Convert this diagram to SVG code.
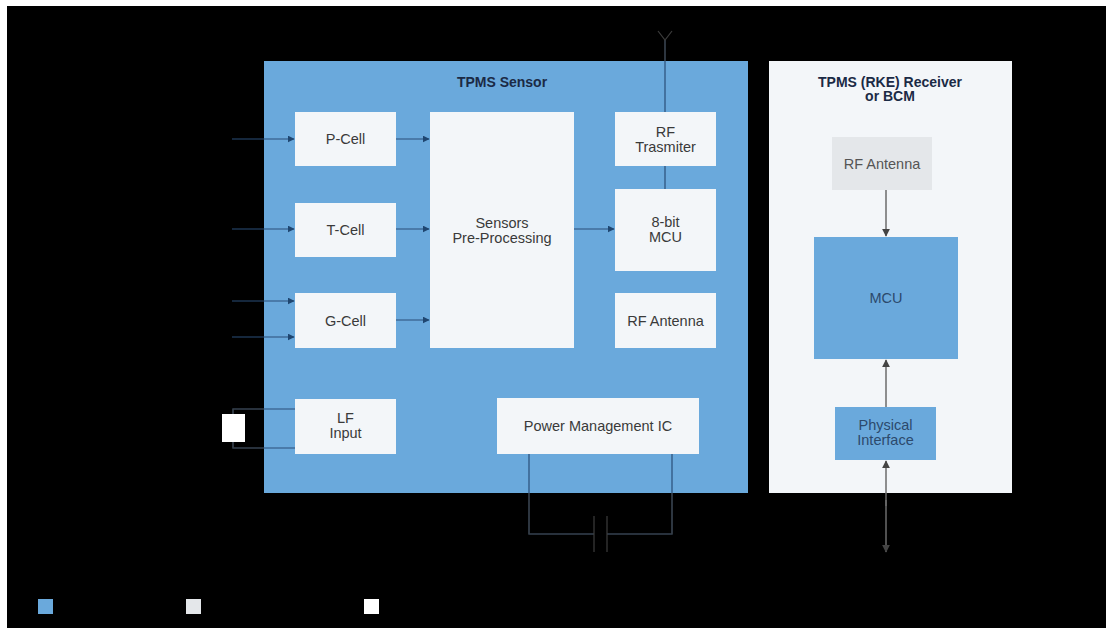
<svg xmlns="http://www.w3.org/2000/svg" width="1106" height="628" viewBox="0 0 1106 628">
<defs>
<style>
.t{font-family:"Liberation Sans",Arial,sans-serif;font-size:14.5px;fill:#3a3a3a;text-anchor:middle}
.h{font-family:"Liberation Sans",Arial,sans-serif;font-size:14px;font-weight:bold;fill:#1b2a45;text-anchor:middle}
.wb{fill:#f3f6f9}
.blue{fill:#6aa9dc}
.c{stroke:#2a4f78;stroke-width:1.2;fill:none}
.k{stroke:#3c3c3c;stroke-width:1.2;fill:none}
.rg{stroke:#6b6b6b;stroke-width:1.5;fill:none}
</style>
<marker id="a" viewBox="0 0 10 10" refX="9" refY="5" markerWidth="7" markerHeight="7" orient="auto" markerUnits="userSpaceOnUse"><path d="M0,0L10,5L0,10z" fill="#1f4670"/></marker>
<marker id="ag" viewBox="0 0 10 10" refX="9" refY="5" markerWidth="8" markerHeight="8" orient="auto" markerUnits="userSpaceOnUse"><path d="M0,0L10,5L0,10z" fill="#444"/></marker>
</defs>
<rect x="0" y="0" width="1106" height="628" fill="#ffffff"/>
<rect x="7" y="6" width="1099" height="622" fill="#000000"/>

<g id="tpms-sensor">
<rect x="264" y="61" width="484" height="432" class="blue"/>
<text class="h" x="502" y="87">TPMS Sensor</text>
</g>
<g id="receiver">
<rect x="769" y="61" width="243" height="432" class="wb"/>
<text class="h" x="890" y="87">TPMS (RKE) Receiver</text>
<text class="h" x="890" y="101">or BCM</text>
</g>

<g id="p-cell"><rect x="295" y="112" width="101" height="54" class="wb"/><text class="t" x="345.5" y="144">P-Cell</text></g>
<g id="t-cell"><rect x="295" y="203" width="101" height="54" class="wb"/><text class="t" x="345.5" y="234.5">T-Cell</text></g>
<g id="g-cell"><rect x="295" y="293" width="101" height="55" class="wb"/><text class="t" x="345.5" y="325.5">G-Cell</text></g>
<g id="lf-input"><rect x="295" y="399" width="101" height="55" class="wb"/><text class="t" x="345.5" y="423">LF</text><text class="t" x="345.5" y="438">Input</text></g>
<g id="pre-processing"><rect x="430" y="112" width="144" height="236" class="wb"/><text class="t" x="502" y="228">Sensors</text><text class="t" x="502" y="243">Pre-Processing</text></g>
<g id="rf-transmitter"><rect x="615" y="112" width="101" height="54" class="wb"/><text class="t" x="665.5" y="137">RF</text><text class="t" x="665.5" y="152">Trasmiter</text></g>
<g id="mcu-8bit"><rect x="615" y="189" width="101" height="82" class="wb"/><text class="t" x="665.5" y="227">8-bit</text><text class="t" x="665.5" y="242">MCU</text></g>
<g id="rf-antenna-sensor"><rect x="615" y="293" width="101" height="55" class="wb"/><text class="t" x="665.5" y="325.5">RF Antenna</text></g>
<g id="pmic"><rect x="497" y="398" width="202" height="56" class="wb"/><text class="t" x="598" y="431">Power Management IC</text></g>
<g id="lf-coil"><rect x="222" y="414" width="23" height="28" fill="#ffffff"/></g>

<g id="rf-antenna-receiver"><rect x="832" y="137" width="100" height="53" fill="#e4e7ea"/><text class="t" x="882" y="168.5" style="fill:#555">RF Antenna</text></g>
<g id="mcu"><rect x="814" y="237" width="144" height="122" class="blue"/><text class="t" x="886" y="303" style="fill:#2c4a6c">MCU</text></g>
<g id="physical-interface"><rect x="835" y="407" width="101" height="53" class="blue"/><text class="t" x="885.5" y="430" style="fill:#2c4a6c">Physical</text><text class="t" x="885.5" y="445" style="fill:#2c4a6c">Interface</text></g>

<g id="legend">
<rect x="38" y="599" width="15" height="15" fill="#6aa9dc"/>
<rect x="186" y="599" width="15" height="15" fill="#e4e7ea"/>
<rect x="364" y="599" width="15" height="15" fill="#ffffff"/>
</g>

<g id="connectors">
<line x1="232" y1="139" x2="294" y2="139" class="c" marker-end="url(#a)"/>
<line x1="232" y1="229" x2="294" y2="229" class="c" marker-end="url(#a)"/>
<line x1="232" y1="301" x2="294" y2="301" class="c" marker-end="url(#a)"/>
<line x1="232" y1="337" x2="294" y2="337" class="c" marker-end="url(#a)"/>
<line x1="396" y1="139" x2="429" y2="139" class="c" marker-end="url(#a)"/>
<line x1="396" y1="229" x2="429" y2="229" class="c" marker-end="url(#a)"/>
<line x1="396" y1="320" x2="429" y2="320" class="c" marker-end="url(#a)"/>
<line x1="574" y1="229" x2="614" y2="229" class="c" marker-end="url(#a)"/>
<path d="M665,40V112M665,166V189" class="c"/>
<path d="M658,31L665,40L672,31" class="k"/>
<line x1="665" y1="40" x2="665" y2="61" class="k"/>
<path d="M233,414V409H295M233,442V448H295" class="c"/>
<path d="M233,414V409H264M233,442V448H264" class="k"/>
<path d="M529,454V534H594M607,534H672V454" class="c"/>
<path d="M529,493V534H594M607,534H672V493" class="k"/>
<path d="M594,516V552M607,516V552" class="k"/>
<line x1="886" y1="190" x2="886" y2="236" class="rg" marker-end="url(#ag)"/>
<line x1="886" y1="407" x2="886" y2="360" class="rg" marker-end="url(#ag)"/>
<line x1="886" y1="506" x2="886" y2="461" class="rg" marker-end="url(#ag)"/>
<line x1="886" y1="500" x2="886" y2="552" class="rg" marker-end="url(#ag)"/>
</g>
</svg>
